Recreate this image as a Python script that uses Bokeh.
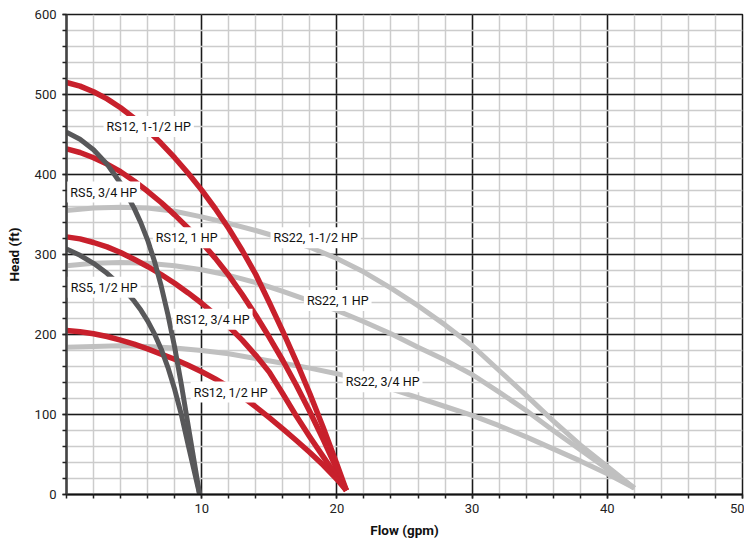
from bokeh.plotting import figure
from bokeh.models import Range1d, FixedTicker, Label
from bokeh.embed import file_html
from bokeh.resources import INLINE

# ---------------- data ----------------
x_ticks = [10, 20, 30, 40, 50]
x_minor = list(range(0, 51, 2))
y_ticks = [0, 100, 200, 300, 400, 500, 600]
y_minor = list(range(0, 601, 20))

red_x = [0, 1, 2, 3, 4, 5, 6, 7, 8, 9, 10, 11, 12, 13, 14, 15, 16, 17, 18, 19, 20, 20.7]
rs12_15_y = [515, 510.5, 503.5, 494.5, 483.5, 470.5, 455.5, 439, 421, 401.5, 380.5,
             357.5, 332.5, 305, 275, 240, 204, 166, 126, 83, 38, 5]
rs12_10_y = [432, 427.5, 421, 413, 403.5, 392, 379, 365, 349.5, 333, 315,
             295.5, 274, 250, 224, 196.5, 167.5, 136.5, 103.5, 68.5, 31.5, 5]
rs12_075_y = [322, 319.5, 315, 309.5, 302.5, 294, 285, 275, 264, 252, 239,
              225, 210, 193, 174, 153, 126, 98, 72, 47, 22, 5]
rs12_05_y = [205, 203.5, 201, 197.5, 193, 188, 182, 175.5, 169, 161.5, 153.5,
             144.5, 134.5, 122.5, 109.5, 96, 82, 67.5, 52.5, 36.5, 19, 5]

rs5_x = [0, 1, 2, 3, 4, 5, 5.5, 6, 6.5, 7, 7.5, 8, 8.5, 9, 9.85]
rs5_075_y = [453, 444, 431, 413, 389, 358, 339.5, 318, 292, 261, 225, 184, 137, 86, 0]
rs5_05_y = [307, 299, 289, 276.5, 261, 242, 230.5, 217, 201, 182, 159, 131.5, 99.5, 62, 0]

rs22_x = [0, 2, 4, 6, 8, 10, 12, 14, 16, 18, 20, 22, 24, 26, 28, 30, 32, 34, 36, 38, 40, 42]
rs22_15_y = [355, 358, 359, 358, 354, 347, 339, 330, 320, 309, 295, 278, 258, 236, 212, 186, 155, 124, 92, 62, 35, 8]
rs22_10_y = [286, 289, 290, 289, 286, 281, 274, 265, 254, 242, 230, 216, 201, 184, 168, 150, 128, 105, 80, 56, 32, 8]
rs22_075_y = [184, 185, 186, 185, 183, 180, 176, 170, 164, 158, 151, 142, 132, 121, 110, 99, 86, 72, 57, 42, 26, 8]

label_texts = ["RS12, 1-1/2 HP", "RS5, 3/4 HP", "RS12, 1 HP", "RS22, 1-1/2 HP",
               "RS5, 1/2 HP", "RS22, 1 HP", "RS12, 3/4 HP", "RS12, 1/2 HP", "RS22, 3/4 HP"]
label_x = [6.08, 2.75, 8.89, 18.43, 2.79, 20.06, 10.81, 12.14, 23.38]
label_y = [460, 378, 321, 321, 259, 242.5, 219, 128, 141]

# ---------------- styles ----------------
RED = "#c8202c"
DARK = "#58585a"
LIGHT = "#c0c0c0"
FONT = "Liberation Sans Narrow, Roboto, sans-serif"

p = figure(width=744, height=544, output_backend="svg", toolbar_location=None,
           x_range=Range1d(0, 50), y_range=Range1d(0, 600),
           min_border_left=66, min_border_right=2, min_border_top=14, min_border_bottom=50)
p.outline_line_color = "#1a1a1a"
p.outline_line_width = 1.5

for ax, ticks, minor in ((p.xaxis[0], x_ticks, x_minor), (p.yaxis[0], y_ticks, y_minor)):
    ax.ticker = FixedTicker(ticks=ticks, minor_ticks=minor)
    ax.major_tick_in = 0
    ax.major_tick_out = 4
    ax.minor_tick_in = 0
    ax.minor_tick_out = 4
    ax.major_tick_line_color = "#222222"
    ax.minor_tick_line_color = "#222222"
    ax.major_tick_line_width = 1.5
    ax.minor_tick_line_width = 1.5
    ax.major_label_text_font = FONT
    ax.major_label_text_font_size = "13px"
    ax.major_label_text_color = "#222222"
    ax.axis_label_text_font = FONT
    ax.axis_label_text_font_size = "13.5px"
    ax.axis_label_text_font_style = "bold"
    ax.axis_label_text_color = "#111111"

p.xaxis.axis_label = "Flow (gpm)"
p.yaxis.axis_label = "Head (ft)"
p.xaxis.axis_line_color = "#111111"
p.xaxis.axis_line_width = 2
p.yaxis.axis_line_color = "#444444"
p.yaxis.axis_line_width = 2.5
p.xaxis.major_label_standoff = 5
p.yaxis.major_label_standoff = 6
p.xaxis.axis_label_standoff = 6
p.yaxis.axis_label_standoff = 10

for g in (p.xgrid[0], p.ygrid[0]):
    g.grid_line_color = "#1a1a1a"
    g.grid_line_width = 1.5
    g.minor_grid_line_color = "#cccccc"
    g.minor_grid_line_width = 1.5
p.xgrid[0].ticker = FixedTicker(ticks=x_ticks, minor_ticks=x_minor)
p.ygrid[0].ticker = FixedTicker(ticks=y_ticks, minor_ticks=y_minor)

for ys in (rs22_15_y, rs22_10_y, rs22_075_y):
    p.line(rs22_x, ys, line_color=LIGHT, line_width=5, line_join="round")
for ys in (rs12_15_y, rs12_10_y, rs12_075_y, rs12_05_y):
    p.line(red_x, ys, line_color=RED, line_width=5.5, line_join="round")
for ys in (rs5_075_y, rs5_05_y):
    p.line(rs5_x, ys, line_color=DARK, line_width=5, line_join="round")

for t, lx, ly in zip(label_texts, label_x, label_y):
    p.add_layout(Label(x=lx, y=ly, text=t, text_align="center", text_baseline="middle",
                       text_font=FONT, text_font_size="12.5px", text_color="#111111",
                       background_fill_color="white", padding=3))

open("out.html", "w").write(file_html(p, INLINE))
